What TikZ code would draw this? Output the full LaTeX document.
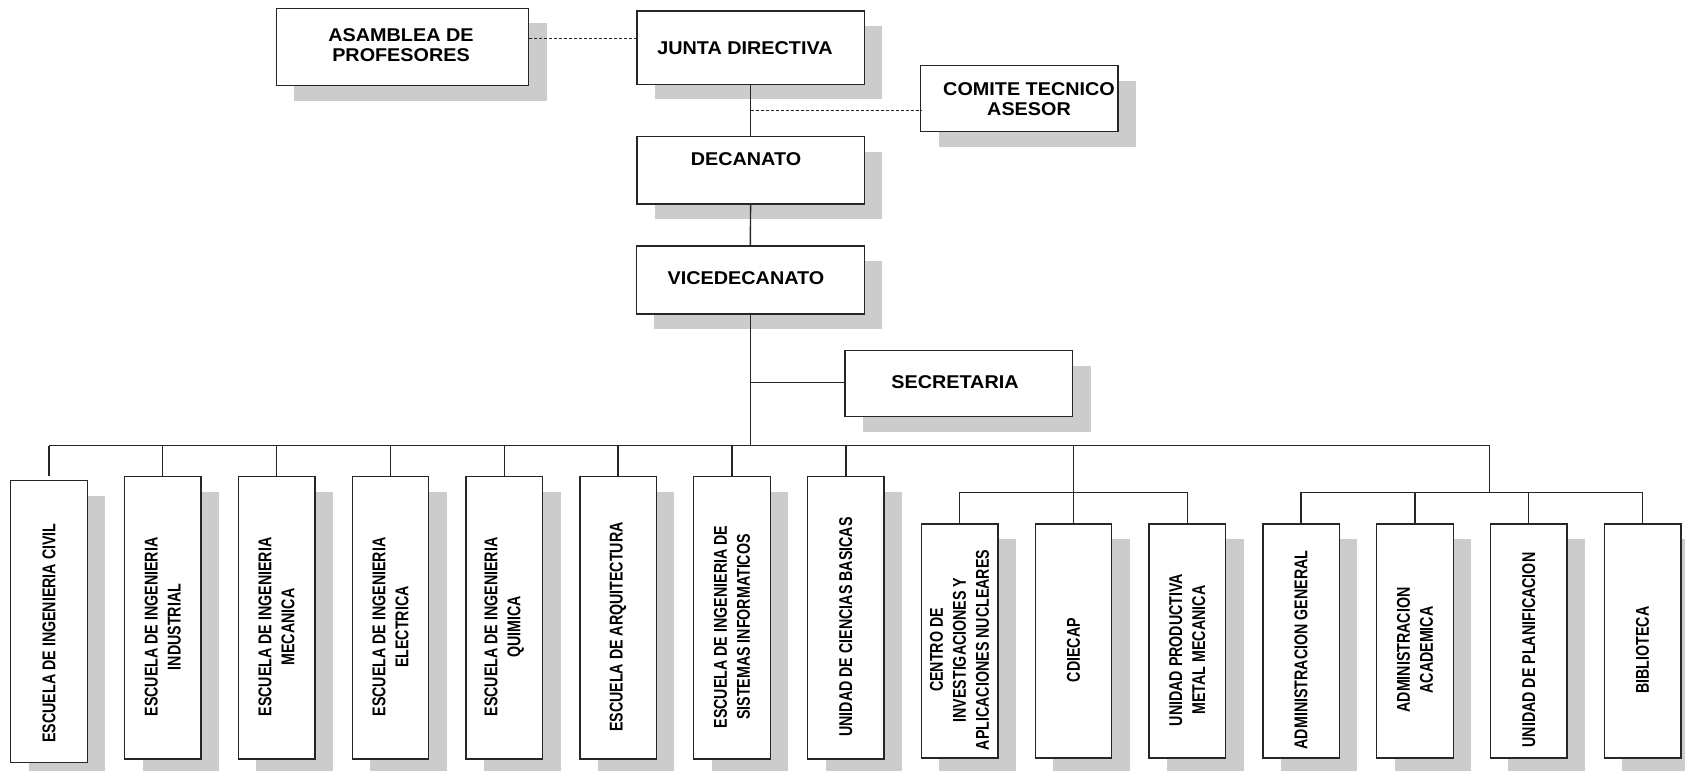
\documentclass[tikz,border=0pt]{standalone}
\usepackage{fontspec}
\setmainfont{Liberation Sans}
\newfontfamily\wideface[FakeStretch=1.07]{Liberation Sans}
\newfontfamily\narrowface[FakeStretch=0.77]{Liberation Sans}
\usetikzlibrary{shadows}
\begin{document}
\begin{tikzpicture}[x=1bp,y=-1bp,
  every node/.style={inner sep=0pt, outer sep=0pt},
  unit/.style={rectangle, draw=black!85, line width=1.3bp, fill=white,
    drop shadow={shadow xshift=18bp, shadow yshift=-15bp, fill=black!20, draw=none, opacity=1}},
  vunit/.style={unit, minimum width=76.5bp},
  htext/.style={align=center, font=\wideface\bfseries\fontsize{18.5bp}{20bp}\selectfont},
  vtext/.style={rotate=90, align=center, font=\narrowface\bfseries\fontsize{18.5bp}{23bp}\selectfont},
  link/.style={draw=black!85, line width=1.4bp},
  aux/.style={draw=black!85, line width=1bp, dash pattern=on 3bp off 2bp}]
\useasboundingbox (0,0) rectangle (1685,771);

% upper boxes
\node[unit, minimum width=252.5bp, minimum height=77.4bp] (asamblea) at (402.5,47) {};
\node[unit, minimum width=227.3bp, minimum height=73.3bp] (junta) at (750.6,47.7) {};
\node[unit, minimum width=197.3bp, minimum height=66bp] (comite) at (1019.4,98.7) {};
\node[unit, minimum width=227.3bp, minimum height=67.3bp] (decanato) at (750.6,170.3) {};
\node[unit, minimum width=228bp, minimum height=68bp] (vice) at (750.3,280) {};
\node[unit, minimum width=227.7bp, minimum height=66bp] (secretaria) at (958.8,383.7) {};

\node[htext] (asamblea-t) at (401,45) {ASAMBLEA DE\\PROFESORES};
\node[htext] (junta-t) at (745,48) {JUNTA DIRECTIVA};
\node[htext] (comite-t) at (1029,99) {COMITE TECNICO\\ASESOR};
\node[htext] (decanato-t) at (746,159) {DECANATO};
\node[htext] (vice-t) at (746,278.3) {VICEDECANATO};
\node[htext] (secretaria-t) at (955,382.3) {SECRETARIA};

% schools and units
\node[vunit, minimum height=282bp]   (u0)  at (48.95,621.7) {};
\node[vunit, minimum height=282.3bp] (u1)  at (162.78,617.85) {};
\node[vunit, minimum height=282.3bp] (u2)  at (276.6,617.85) {};
\node[vunit, minimum height=282.3bp] (u3)  at (390.4,617.85) {};
\node[vunit, minimum height=282.3bp] (u4)  at (504.3,617.85) {};
\node[vunit, minimum height=282.3bp] (u5)  at (618.1,617.85) {};
\node[vunit, minimum height=282.3bp] (u6)  at (731.9,617.85) {};
\node[vunit, minimum height=282.3bp] (u7)  at (845.8,617.85) {};
\node[vunit, minimum height=234bp]   (u8)  at (959.6,641) {};
\node[vunit, minimum height=234bp]   (u9)  at (1073.4,641) {};
\node[vunit, minimum height=234bp]   (u10) at (1187.3,641) {};
\node[vunit, minimum height=234bp]   (u11) at (1301.1,641) {};
\node[vunit, minimum height=234bp]   (u12) at (1414.9,641) {};
\node[vunit, minimum height=234bp]   (u13) at (1528.7,641) {};
\node[vunit, minimum height=234bp]   (u14) at (1642.6,641) {};

\node[vtext] (u0-t)  at (48.95,633) {ESCUELA DE INGENIERIA CIVIL};
\node[vtext] (u1-t)  at (162.78,627) {ESCUELA DE INGENIERIA\\INDUSTRIAL};
\node[vtext] (u2-t)  at (276.6,627) {ESCUELA DE INGENIERIA\\MECANICA};
\node[vtext] (u3-t)  at (390.4,627) {ESCUELA DE INGENIERIA\\ELECTRICA};
\node[vtext] (u4-t)  at (504.3,627) {ESCUELA DE INGENIERIA\\QUIMICA};
\node[vtext] (u5-t)  at (618.1,627) {ESCUELA DE ARQUITECTURA};
\node[vtext] (u6-t)  at (731.9,627) {ESCUELA DE INGENIERIA DE\\SISTEMAS INFORMATICOS};
\node[vtext] (u7-t)  at (845.8,627) {UNIDAD DE CIENCIAS BASICAS};
\node[vtext] (u8-t)  at (959.6,650) {CENTRO DE\\INVESTIGACIONES Y\\APLICACIONES NUCLEARES};
\node[vtext] (u9-t)  at (1073.4,650) {CDIECAP};
\node[vtext] (u10-t) at (1187.3,650) {UNIDAD PRODUCTIVA\\METAL MECANICA};
\node[vtext] (u11-t) at (1301.1,650) {ADMINISTRACION GENERAL};
\node[vtext] (u12-t) at (1414.9,650) {ADMINISTRACION\\ACADEMICA};
\node[vtext] (u13-t) at (1528.7,650) {UNIDAD DE PLANIFICACION};
\node[vtext] (u14-t) at (1642.6,650) {BIBLIOTECA};

% connector levels
\coordinate (advisoryY) at (0,38.3);
\coordinate (comiteY) at (0,110.7);
\coordinate (secY) at (0,382.3);
\coordinate (busY) at (0,445.7);
\coordinate (subY) at (0,492.3);
\coordinate (adminTap) at (1489.7,445.7);

% advisory (dotted) links
\draw[aux] (asamblea.east |- advisoryY) -- (junta.west |- advisoryY);
\draw[aux] (junta.south |- comiteY) -- (comite.west |- comiteY);

% main line of authority
\draw[link] (junta.south) -- (decanato.north);
\draw[link] (decanato.south) -- (vice.north);
\draw[link] (vice.south) -- (vice.south |- busY);
\draw[link] (vice.south |- secY) -- (secretaria.west |- secY);

% distribution bus
\draw[link] (u0.north |- busY) -- (adminTap);
\draw[link, shorten >=5bp] (u0.north |- busY) -- (u0.north);
\foreach \k in {1,...,7} {
  \draw[link] (u\k.north |- busY) -- (u\k.north);
}

% research and production group
\draw[link] (u9.north |- busY) -- (u9.north);
\draw[link] (u8.north |- subY) -- (u10.north |- subY);
\draw[link] (u8.north |- subY) -- (u8.north);
\draw[link] (u10.north |- subY) -- (u10.north);

% administrative group
\draw[link] (adminTap) -- (adminTap |- subY);
\draw[link] (u11.north |- subY) -- (u14.north |- subY);
\foreach \k in {11,...,14} {
  \draw[link] (u\k.north |- subY) -- (u\k.north);
}
\end{tikzpicture}
\end{document}
